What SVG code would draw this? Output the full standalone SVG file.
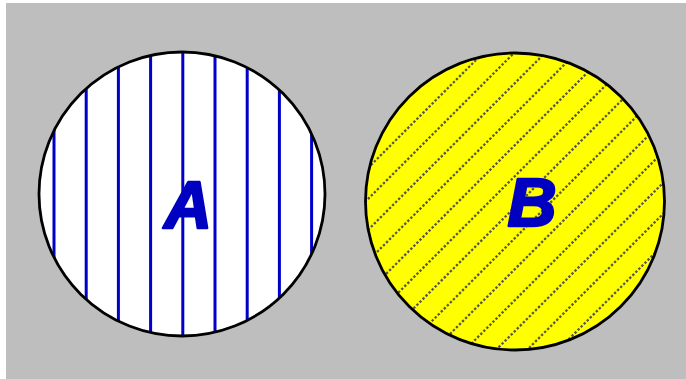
<svg xmlns="http://www.w3.org/2000/svg" width="686" height="379" viewBox="0 0 686 379">
<style>
.outline{stroke:#000;stroke-width:2.8}
.vstripe{stroke:#0000C8;stroke-width:3}
.dstripe{stroke:#585840;stroke-width:2.3;stroke-dasharray:2.4 1.9}
.lbl{font-family:"Liberation Sans",Arial,sans-serif;font-weight:bold;font-style:italic;fill:#0000C0;stroke:#0000C0;stroke-width:2.5;stroke-linejoin:round;text-anchor:middle}
</style>
<defs>
<clipPath id="clipA"><ellipse cx="182" cy="194" rx="143" ry="142"/></clipPath>
<clipPath id="clipB"><ellipse cx="515" cy="201.5" rx="149.5" ry="148.5"/></clipPath>
</defs>
<rect x="0" y="0" width="686" height="379" fill="#fff"/>
<rect x="6" y="3" width="680" height="376" fill="#BEBEBE"/>
<g id="nodeA">
<ellipse cx="182" cy="194" rx="143" ry="142" fill="#fff"/>
<g clip-path="url(#clipA)">
<line class="vstripe" x1="54" y1="40" x2="54" y2="350"/>
<line class="vstripe" x1="86.2" y1="40" x2="86.2" y2="350"/>
<line class="vstripe" x1="118.4" y1="40" x2="118.4" y2="350"/>
<line class="vstripe" x1="150.6" y1="40" x2="150.6" y2="350"/>
<line class="vstripe" x1="182.8" y1="40" x2="182.8" y2="350"/>
<line class="vstripe" x1="215" y1="40" x2="215" y2="350"/>
<line class="vstripe" x1="247.2" y1="40" x2="247.2" y2="350"/>
<line class="vstripe" x1="279.4" y1="40" x2="279.4" y2="350"/>
<line class="vstripe" x1="311.6" y1="40" x2="311.6" y2="350"/>
</g>
<ellipse class="outline" cx="182" cy="194" rx="143" ry="142" fill="none"/>
<text class="lbl" x="188" y="228" font-size="66">A</text>
</g>
<g id="nodeB">
<ellipse cx="515" cy="201.5" rx="149.5" ry="148.5" fill="#FFFF00"/>
<g clip-path="url(#clipB)">
<line class="dstripe" x1="0" y1="443" x2="443" y2="0"/>
<line class="dstripe" x1="0" y1="474" x2="474" y2="0"/>
<line class="dstripe" x1="0" y1="505" x2="505" y2="0"/>
<line class="dstripe" x1="0" y1="536" x2="536" y2="0"/>
<line class="dstripe" x1="0" y1="567" x2="567" y2="0"/>
<line class="dstripe" x1="0" y1="598" x2="598" y2="0"/>
<line class="dstripe" x1="0" y1="629" x2="629" y2="0"/>
<line class="dstripe" x1="0" y1="660" x2="660" y2="0"/>
<line class="dstripe" x1="0" y1="691" x2="691" y2="0"/>
<line class="dstripe" x1="0" y1="722" x2="722" y2="0"/>
<line class="dstripe" x1="0" y1="753" x2="753" y2="0"/>
<line class="dstripe" x1="0" y1="784" x2="784" y2="0"/>
<line class="dstripe" x1="0" y1="815" x2="815" y2="0"/>
<line class="dstripe" x1="0" y1="846" x2="846" y2="0"/>
<line class="dstripe" x1="0" y1="877" x2="877" y2="0"/>
<line class="dstripe" x1="0" y1="908" x2="908" y2="0"/>
<line class="dstripe" x1="0" y1="939" x2="939" y2="0"/>
<line class="dstripe" x1="0" y1="970" x2="970" y2="0"/>
<line class="dstripe" x1="0" y1="1001" x2="1001" y2="0"/>
<line class="dstripe" x1="0" y1="1032" x2="1032" y2="0"/>
</g>
<ellipse class="outline" cx="515" cy="201.5" rx="149.5" ry="148.5" fill="none"/>
<text class="lbl" x="532" y="226" font-size="68">B</text>
</g>
<g id="connectors"/>
</svg>
